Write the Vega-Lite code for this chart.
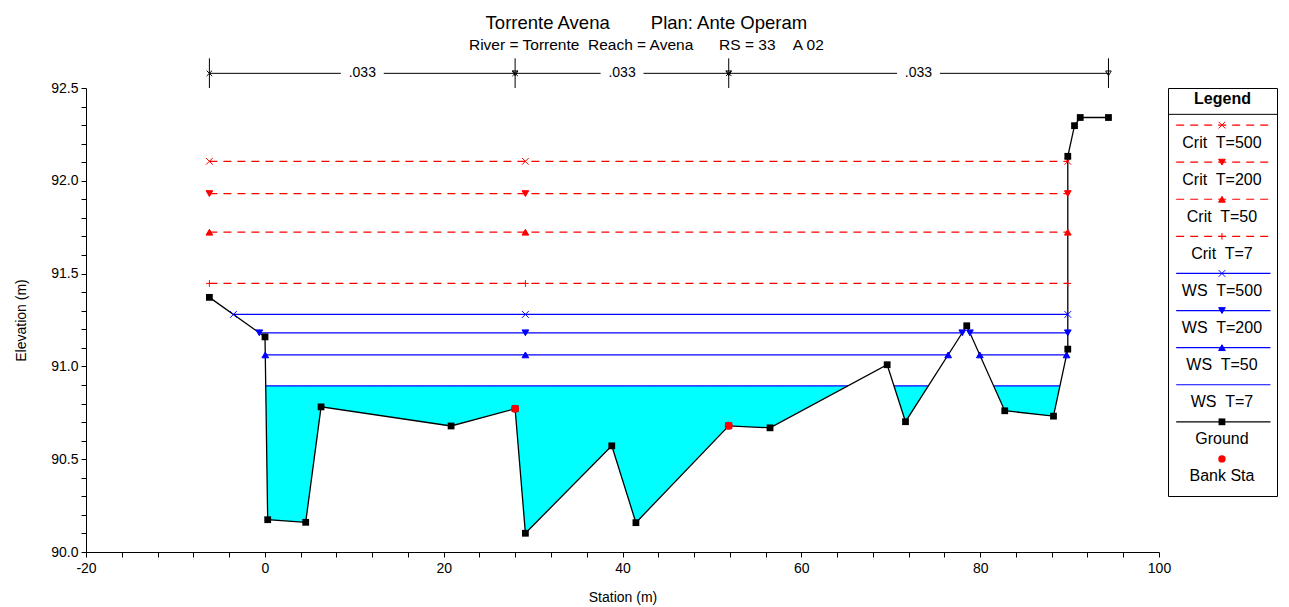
{
  "$schema": "https://vega.github.io/schema/vega-lite/v6.json",
  "background": "white",
  "padding": {"left": 14, "top": 13, "right": 10, "bottom": 3},
  "bounds": "flush",
  "spacing": 9,
  "title": {
    "text": "Torrente Avena\u00a0\u00a0\u00a0\u00a0\u00a0\u00a0\u00a0\u00a0Plan: Ante Operam",
    "subtitle": "River = Torrente\u00a0\u00a0Reach = Avena\u00a0\u00a0\u00a0\u00a0\u00a0\u00a0RS = 33\u00a0\u00a0\u00a0\u00a0A 02",
    "anchor": "middle",
    "font": "Liberation Sans",
    "fontSize": 18.5,
    "fontWeight": "normal",
    "color": "#000000",
    "subtitleFont": "Liberation Sans",
    "subtitleFontSize": 15.5,
    "subtitleColor": "#000000",
    "subtitlePadding": 6,
    "offset": 4
  },
  "resolve": {"scale": {"x": "independent", "y": "independent"}},
  "datasets": {
    "ground": [
      {"order": 1, "x": -6.2, "y": 91.372},
      {"order": 2, "x": 0.02, "y": 91.159},
      {"order": 3, "x": 0.32, "y": 90.174},
      {"order": 4, "x": 4.57, "y": 90.16},
      {"order": 5, "x": 6.29, "y": 90.782},
      {"order": 6, "x": 20.83, "y": 90.679},
      {"order": 7, "x": 27.99, "y": 90.772},
      {"order": 8, "x": 29.14, "y": 90.101},
      {"order": 9, "x": 38.8, "y": 90.572},
      {"order": 10, "x": 41.5, "y": 90.158},
      {"order": 11, "x": 51.88, "y": 90.68},
      {"order": 12, "x": 56.5, "y": 90.669},
      {"order": 13, "x": 69.6, "y": 91.009},
      {"order": 14, "x": 71.65, "y": 90.702},
      {"order": 15, "x": 78.5, "y": 91.219},
      {"order": 16, "x": 82.75, "y": 90.761},
      {"order": 17, "x": 88.2, "y": 90.732},
      {"order": 18, "x": 89.8, "y": 91.093},
      {"order": 19, "x": 89.8, "y": 92.132},
      {"order": 20, "x": 90.55, "y": 92.297},
      {"order": 21, "x": 91.19, "y": 92.341},
      {"order": 22, "x": 94.35, "y": 92.341}
    ],
    "bank": [
      {"x": 27.99, "y": 90.772},
      {"x": 51.88, "y": 90.68}
    ],
    "fill": [
      {"pocket": "A", "x": 0.1, "y": 90.895},
      {"pocket": "A", "x": 0.32, "y": 90.174},
      {"pocket": "A", "x": 4.57, "y": 90.16},
      {"pocket": "A", "x": 6.29, "y": 90.782},
      {"pocket": "A", "x": 20.83, "y": 90.679},
      {"pocket": "A", "x": 27.99, "y": 90.772},
      {"pocket": "A", "x": 29.14, "y": 90.101},
      {"pocket": "A", "x": 38.8, "y": 90.572},
      {"pocket": "A", "x": 41.5, "y": 90.158},
      {"pocket": "A", "x": 51.88, "y": 90.68},
      {"pocket": "A", "x": 56.5, "y": 90.669},
      {"pocket": "A", "x": 65.2, "y": 90.895},
      {"pocket": "B", "x": 70.36, "y": 90.895},
      {"pocket": "B", "x": 71.65, "y": 90.702},
      {"pocket": "B", "x": 74.21, "y": 90.895},
      {"pocket": "C", "x": 81.51, "y": 90.895},
      {"pocket": "C", "x": 82.75, "y": 90.761},
      {"pocket": "C", "x": 88.2, "y": 90.732},
      {"pocket": "C", "x": 88.92, "y": 90.895}
    ],
    "seg": [
      {"kind": "WS", "T": "7", "x": 0.1, "x2": 65.2, "y": 90.895},
      {"kind": "WS", "T": "7", "x": 70.36, "x2": 74.21, "y": 90.895},
      {"kind": "WS", "T": "7", "x": 81.51, "x2": 88.92, "y": 90.895},
      {"kind": "WS", "T": "50", "x": 0.05, "x2": 76.42, "y": 91.062},
      {"kind": "WS", "T": "50", "x": 79.96, "x2": 89.66, "y": 91.062},
      {"kind": "WS", "T": "200", "x": -0.62, "x2": 78.0, "y": 91.181},
      {"kind": "WS", "T": "200", "x": 78.85, "x2": 89.8, "y": 91.181},
      {"kind": "WS", "T": "500", "x": -3.51, "x2": 89.8, "y": 91.28},
      {"kind": "Crit", "T": "7", "x": -6.2, "x2": 89.8, "y": 91.447},
      {"kind": "Crit", "T": "50", "x": -6.2, "x2": 89.8, "y": 91.723},
      {"kind": "Crit", "T": "200", "x": -6.2, "x2": 89.8, "y": 91.931},
      {"kind": "Crit", "T": "500", "x": -6.2, "x2": 89.8, "y": 92.105}
    ],
    "mk": [
      {"kind": "Crit", "T": "500", "x": -6.2, "y": 92.105},
      {"kind": "Crit", "T": "500", "x": 29.14, "y": 92.105},
      {"kind": "Crit", "T": "500", "x": 89.8, "y": 92.105},
      {"kind": "Crit", "T": "200", "x": -6.2, "y": 91.931},
      {"kind": "Crit", "T": "200", "x": 29.14, "y": 91.931},
      {"kind": "Crit", "T": "200", "x": 89.8, "y": 91.931},
      {"kind": "Crit", "T": "50", "x": -6.2, "y": 91.723},
      {"kind": "Crit", "T": "50", "x": 29.14, "y": 91.723},
      {"kind": "Crit", "T": "50", "x": 89.8, "y": 91.723},
      {"kind": "Crit", "T": "7", "x": -6.2, "y": 91.447},
      {"kind": "Crit", "T": "7", "x": 29.14, "y": 91.447},
      {"kind": "Crit", "T": "7", "x": 89.8, "y": 91.447},
      {"kind": "WS", "T": "500", "x": -3.51, "y": 91.28},
      {"kind": "WS", "T": "500", "x": 29.14, "y": 91.28},
      {"kind": "WS", "T": "500", "x": 89.8, "y": 91.28},
      {"kind": "WS", "T": "200", "x": -0.62, "y": 91.181},
      {"kind": "WS", "T": "200", "x": 29.14, "y": 91.181},
      {"kind": "WS", "T": "200", "x": 78.0, "y": 91.181},
      {"kind": "WS", "T": "200", "x": 78.85, "y": 91.181},
      {"kind": "WS", "T": "200", "x": 89.8, "y": 91.181},
      {"kind": "WS", "T": "50", "x": 0.05, "y": 91.062},
      {"kind": "WS", "T": "50", "x": 29.14, "y": 91.062},
      {"kind": "WS", "T": "50", "x": 76.42, "y": 91.062},
      {"kind": "WS", "T": "50", "x": 79.96, "y": 91.062},
      {"kind": "WS", "T": "50", "x": 89.66, "y": 91.062}
    ],
    "nseg": [
      {"x": -6.2, "x2": 8.5},
      {"x": 13.3, "x2": 27.99},
      {"x": 27.99, "x2": 37.55},
      {"x": 42.35, "x2": 51.88},
      {"x": 51.88, "x2": 70.7},
      {"x": 75.5, "x2": 94.35}
    ],
    "nb": [
      {"x": -6.2}, {"x": 27.99}, {"x": 51.88}, {"x": 94.35}
    ],
    "narr": [
      {"x": -6.2, "dir": "L"},
      {"x": 27.99, "dir": "R"},
      {"x": 27.99, "dir": "L"},
      {"x": 51.88, "dir": "R"},
      {"x": 51.88, "dir": "L"},
      {"x": 94.35, "dir": "R"}
    ],
    "nlab": [
      {"x": 10.9, "n": ".033"},
      {"x": 39.95, "n": ".033"},
      {"x": 73.1, "n": ".033"}
    ],
    "leg": [
      {"idx": 0, "label": "Crit\u00a0 T=500", "kind": "Crit", "T": "500"},
      {"idx": 1, "label": "Crit\u00a0 T=200", "kind": "Crit", "T": "200"},
      {"idx": 2, "label": "Crit\u00a0 T=50", "kind": "Crit", "T": "50"},
      {"idx": 3, "label": "Crit\u00a0 T=7", "kind": "Crit", "T": "7"},
      {"idx": 4, "label": "WS\u00a0 T=500", "kind": "WS", "T": "500"},
      {"idx": 5, "label": "WS\u00a0 T=200", "kind": "WS", "T": "200"},
      {"idx": 6, "label": "WS\u00a0 T=50", "kind": "WS", "T": "50"},
      {"idx": 7, "label": "WS\u00a0 T=7", "kind": "WS", "T": "7"},
      {"idx": 8, "label": "Ground", "kind": "Ground", "T": ""},
      {"idx": 9, "label": "Bank Sta", "kind": "Bank", "T": ""}
    ],
    "head": [
      {"t": "Legend"}
    ]
  },
  "hconcat": [
    {
      "width": 1073,
      "height": 464,
      "view": {"stroke": null},
      "layer": [
        {
          "data": {"name": "fill"},
          "mark": {"type": "area", "color": "#00ffff", "opacity": 1},
          "encoding": {
            "x": {"field": "x", "type": "quantitative", "title": "Station (m)",
              "scale": {"domain": [-20, 100], "nice": false, "zero": false},
              "axis": {"values": [-20,-16,-12,-8,-4,0,4,8,12,16,20,24,28,32,36,40,44,48,52,56,60,64,68,72,76,80,84,88,92,96,100],
                "tickCount": 200,
                "labelExpr": "datum.value % 20 == 0 ? ('' + datum.value) : ''",
                "labelOverlap": false, "labelPadding": 4, "titlePadding": 15}},
            "y": {"field": "y", "type": "quantitative", "title": "Elevation (m)", "stack": null,
              "scale": {"domain": [90, 92.5], "nice": false, "zero": false},
              "axis": {"values": [90,90.1,90.2,90.3,90.4,90.5,90.6,90.7,90.8,90.9,91,91.1,91.2,91.3,91.4,91.5,91.6,91.7,91.8,91.9,92,92.1,92.2,92.3,92.4,92.5],
                "tickCount": 200,
                "labelExpr": "abs(datum.value*2 - round(datum.value*2)) < 0.001 ? format(datum.value, '.1f') : ''",
                "labelOverlap": false, "labelPadding": 3, "titlePadding": 22}},
            "y2": {"datum": 90.895},
            "detail": {"field": "pocket"}
          }
        },
        {
          "data": {"name": "seg"},
          "mark": {"type": "rule", "strokeWidth": 1.2},
          "encoding": {
            "x": {"field": "x", "type": "quantitative", "title": "Station (m)"},
            "x2": {"field": "x2"},
            "y": {"field": "y", "type": "quantitative", "title": "Elevation (m)"},
            "color": {"field": "kind", "type": "nominal", "legend": null,
              "scale": {"domain": ["Crit", "WS"], "range": ["#ff0000", "#0000ff"]}},
            "strokeDash": {"field": "kind", "type": "nominal", "legend": null,
              "scale": {"domain": ["Crit", "WS"], "range": [[8, 6], [1, 0]]}}
          }
        },
        {
          "data": {"name": "ground"},
          "mark": {"type": "line", "color": "#000000", "strokeWidth": 1.3},
          "encoding": {
            "x": {"field": "x", "type": "quantitative", "title": "Station (m)"},
            "y": {"field": "y", "type": "quantitative", "title": "Elevation (m)"},
            "order": {"field": "order", "type": "quantitative"}
          }
        },
        {
          "data": {"name": "mk"},
          "mark": {"type": "point", "filled": true, "size": 45, "strokeWidth": 1, "opacity": 1},
          "encoding": {
            "x": {"field": "x", "type": "quantitative", "title": "Station (m)"},
            "y": {"field": "y", "type": "quantitative", "title": "Elevation (m)"},
            "shape": {"field": "T", "type": "nominal", "legend": null,
              "scale": {"domain": ["500", "200", "50", "7"], "range": ["M-1,-1L1,1M-1,1L1,-1", "triangle-down", "triangle-up", "M-1,0L1,0M0,-1L0,1"]}},
            "color": {"field": "kind", "type": "nominal", "legend": null,
              "scale": {"domain": ["Crit", "WS"], "range": ["#ff0000", "#0000ff"]}},
            "stroke": {"field": "kind", "type": "nominal", "legend": null,
              "scale": {"domain": ["Crit", "WS"], "range": ["#ff0000", "#0000ff"]}}
          }
        },
        {
          "data": {"name": "ground"},
          "mark": {"type": "point", "shape": "square", "filled": true, "color": "#000000", "size": 46, "opacity": 1},
          "encoding": {
            "x": {"field": "x", "type": "quantitative", "title": "Station (m)"},
            "y": {"field": "y", "type": "quantitative", "title": "Elevation (m)"}
          }
        },
        {
          "data": {"name": "bank"},
          "mark": {"type": "point", "shape": "circle", "filled": true, "color": "#ff0000", "size": 64, "opacity": 1},
          "encoding": {
            "x": {"field": "x", "type": "quantitative", "title": "Station (m)"},
            "y": {"field": "y", "type": "quantitative", "title": "Elevation (m)"}
          }
        },
        {
          "data": {"name": "nseg"},
          "mark": {"type": "rule", "color": "#000000", "strokeWidth": 1},
          "encoding": {
            "x": {"field": "x", "type": "quantitative", "title": "Station (m)"},
            "x2": {"field": "x2"},
            "y": {"datum": 92.579, "type": "quantitative"}
          }
        },
        {
          "data": {"name": "nb"},
          "mark": {"type": "rule", "color": "#000000", "strokeWidth": 1},
          "encoding": {
            "x": {"field": "x", "type": "quantitative", "title": "Station (m)"},
            "y": {"datum": 92.5, "type": "quantitative"},
            "y2": {"datum": 92.66}
          }
        },
        {
          "data": {"name": "narr"},
          "mark": {"type": "point", "filled": false, "color": "#000000", "size": 30, "strokeWidth": 1, "opacity": 1},
          "encoding": {
            "x": {"field": "x", "type": "quantitative", "title": "Station (m)"},
            "y": {"datum": 92.579, "type": "quantitative"},
            "shape": {"field": "dir", "type": "nominal", "legend": null,
              "scale": {"domain": ["L", "R"], "range": ["M2,-1L0,0L2,1", "M-2,-1L0,0L-2,1"]}}
          }
        },
        {
          "data": {"name": "nlab"},
          "mark": {"type": "text", "fontSize": 14, "baseline": "middle", "align": "center", "color": "#000000"},
          "encoding": {
            "x": {"field": "x", "type": "quantitative", "title": "Station (m)"},
            "y": {"datum": 92.579, "type": "quantitative"},
            "text": {"field": "n"}
          }
        }
      ]
    },
    {
      "width": 109,
      "height": 408,
      "view": {"stroke": "#000000", "strokeWidth": 1},
      "layer": [
        {
          "data": {"name": "head"},
          "mark": {"type": "text", "fontSize": 16, "fontWeight": "bold", "baseline": "middle", "align": "center", "color": "#000000"},
          "encoding": {
            "x": {"datum": 0.5, "type": "quantitative", "scale": {"domain": [0, 1]}, "axis": null},
            "y": {"datum": -0.69, "type": "quantitative", "scale": {"domain": [-1, 9.96], "reverse": true}, "axis": null},
            "text": {"field": "t"}
          }
        },
        {
          "data": {"name": "head"},
          "mark": {"type": "rule", "color": "#000000", "strokeWidth": 1},
          "encoding": {
            "x": {"datum": 0, "type": "quantitative"},
            "x2": {"datum": 1},
            "y": {"datum": -0.29, "type": "quantitative"}
          }
        },
        {
          "data": {"name": "leg"},
          "transform": [{"filter": "datum.kind == 'Crit' || datum.kind == 'WS'"}],
          "mark": {"type": "rule", "strokeWidth": 1.2},
          "encoding": {
            "x": {"datum": 0.075, "type": "quantitative"},
            "x2": {"datum": 0.94},
            "y": {"field": "idx", "type": "quantitative"},
            "color": {"field": "kind", "type": "nominal", "legend": null,
              "scale": {"domain": ["Crit", "WS"], "range": ["#ff0000", "#0000ff"]}},
            "strokeDash": {"field": "kind", "type": "nominal", "legend": null,
              "scale": {"domain": ["Crit", "WS"], "range": [[8, 6], [1, 0]]}}
          }
        },
        {
          "data": {"name": "leg"},
          "transform": [{"filter": "datum.kind == 'Ground'"}],
          "mark": {"type": "rule", "strokeWidth": 1.3, "color": "#000000"},
          "encoding": {
            "x": {"datum": 0.075, "type": "quantitative"},
            "x2": {"datum": 0.94},
            "y": {"field": "idx", "type": "quantitative"}
          }
        },
        {
          "data": {"name": "leg"},
          "transform": [{"filter": "datum.kind == 'Crit' || (datum.kind == 'WS' && datum.T != '7')"}],
          "mark": {"type": "point", "filled": true, "size": 45, "strokeWidth": 1, "opacity": 1},
          "encoding": {
            "x": {"datum": 0.495, "type": "quantitative"},
            "y": {"field": "idx", "type": "quantitative"},
            "shape": {"field": "T", "type": "nominal", "legend": null,
              "scale": {"domain": ["500", "200", "50", "7"], "range": ["M-1,-1L1,1M-1,1L1,-1", "triangle-down", "triangle-up", "M-1,0L1,0M0,-1L0,1"]}},
            "color": {"field": "kind", "type": "nominal", "legend": null,
              "scale": {"domain": ["Crit", "WS"], "range": ["#ff0000", "#0000ff"]}},
            "stroke": {"field": "kind", "type": "nominal", "legend": null,
              "scale": {"domain": ["Crit", "WS"], "range": ["#ff0000", "#0000ff"]}}
          }
        },
        {
          "data": {"name": "leg"},
          "transform": [{"filter": "datum.kind == 'Ground'"}],
          "mark": {"type": "point", "shape": "square", "filled": true, "color": "#000000", "size": 46, "opacity": 1},
          "encoding": {
            "x": {"datum": 0.495, "type": "quantitative"},
            "y": {"field": "idx", "type": "quantitative"}
          }
        },
        {
          "data": {"name": "leg"},
          "transform": [{"filter": "datum.kind == 'Bank'"}],
          "mark": {"type": "point", "shape": "circle", "filled": true, "color": "#ff0000", "size": 55, "opacity": 1},
          "encoding": {
            "x": {"datum": 0.495, "type": "quantitative"},
            "y": {"field": "idx", "type": "quantitative"}
          }
        },
        {
          "data": {"name": "leg"},
          "mark": {"type": "text", "fontSize": 16, "baseline": "middle", "align": "center", "dy": 17.5, "color": "#000000"},
          "encoding": {
            "x": {"datum": 0.495, "type": "quantitative"},
            "y": {"field": "idx", "type": "quantitative"},
            "text": {"field": "label"}
          }
        }
      ]
    }
  ],
  "config": {
    "view": {"stroke": null},
    "font": "Liberation Sans",
    "text": {"font": "Liberation Sans"},
    "axis": {
      "domainColor": "#000000", "domainWidth": 1,
      "tickColor": "#000000", "tickWidth": 1, "tickSize": 5,
      "labelColor": "#000000", "labelFont": "Liberation Sans", "labelFontSize": 14,
      "labelOverlap": false, "labelFlush": false,
      "titleColor": "#000000", "titleFont": "Liberation Sans", "titleFontSize": 14, "titleFontWeight": "normal",
      "grid": false
    }
  }
}
